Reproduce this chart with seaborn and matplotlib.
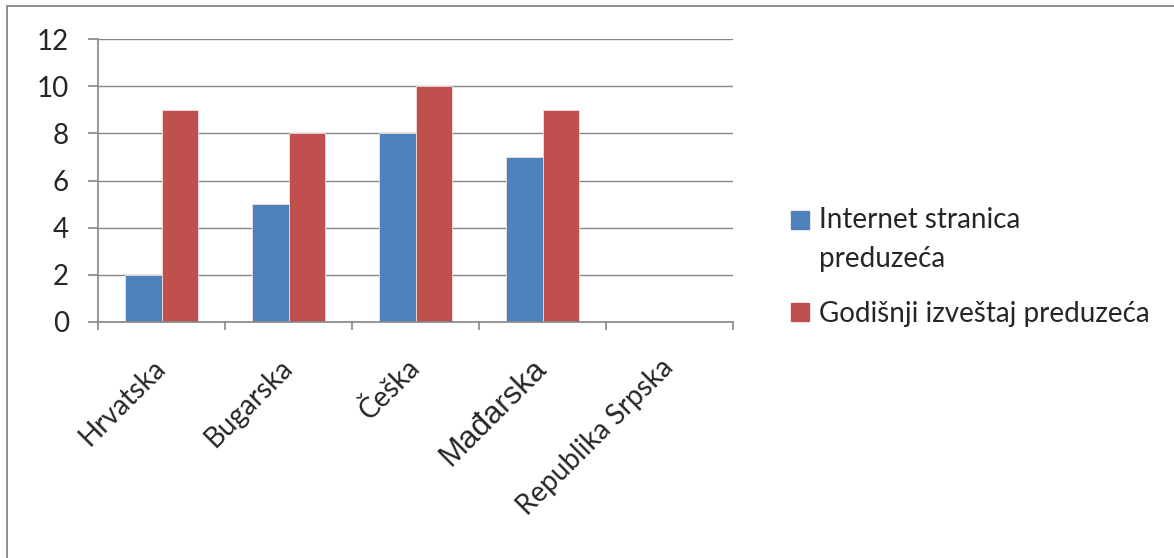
import matplotlib
matplotlib.use("Agg")
import pandas as pd
import matplotlib.pyplot as plt
import seaborn as sns
from matplotlib.patches import Rectangle
from matplotlib.legend_handler import HandlerPatch

countries = ["Hrvatska", "Bugarska", "Češka", "Mađarska", "Republika Srpska"]
series = ["Internet stranica\npreduzeća", "Godišnji izveštaj preduzeća"]
internet = [2, 5, 8, 7, None]
godisnji = [9, 8, 10, 9, None]
yticks = [0, 2, 4, 6, 8, 10, 12]
colors = ["#4F81BD", "#C0504D"]
gray = "#868686"

df = pd.DataFrame({
    "Zemlja": countries * 2,
    "Izvor": [series[0]] * len(countries) + [series[1]] * len(countries),
    "Vrednost": internet + godisnji,
}).dropna()

sns.set_style("white")
plt.rcParams["font.family"] = ["Lato", "DejaVu Sans"]

fig = plt.figure(figsize=(11.74, 5.58), dpi=100)
ax = fig.add_axes([98 / 1174, 1 - 322 / 558, 635 / 1174, 283 / 558])

sns.barplot(data=df, x="Zemlja", y="Vrednost", hue="Izvor", order=countries,
            hue_order=series, palette=colors, saturation=1, width=0.567,
            edgecolor="#f0dede", linewidth=0.6, ax=ax)
ax.get_legend().remove()

ax.set_xlim(-0.5, 4.5)
ax.set_ylim(0, 12)
ax.set_yticks(yticks)
ax.set_xlabel("")
ax.set_ylabel("")
ax.set_axisbelow(True)
ax.grid(axis="y", color=gray, lw=1)
ax.grid(axis="x", visible=False)
for s in ["top", "right"]:
    ax.spines[s].set_visible(False)
for s in ["left", "bottom"]:
    ax.spines[s].set_color(gray)
    ax.spines[s].set_linewidth(1.2)

ax.set_xticks([i - 0.5 for i in range(6)], minor=True)
ax.tick_params(axis="x", which="major", length=0, pad=30, labelsize=20)
ax.tick_params(axis="x", which="minor", length=6, width=1.2, color=gray, direction="out", bottom=True)
ax.tick_params(axis="y", length=7, width=1.2, color=gray, direction="out", left=True, pad=14, labelsize=20)
for lbl in ax.get_xticklabels():
    lbl.set(rotation=45, ha="right", va="center", rotation_mode="anchor")
    if lbl.get_text() == "Mađarska":
        lbl.set(family="Liberation Sans", fontsize=22.5)


def raised(legend, orig_handle, xdescent, ydescent, width, height, fontsize):
    return Rectangle((-xdescent, -ydescent + 0.72 * fontsize), width, height)


handles = [Rectangle((0, 0), 1, 1, color=c) for c in colors]
leg = fig.legend(handles, series, loc="center left",
                 bbox_to_anchor=(777 / 1174, 1 - 267 / 558), frameon=False,
                 fontsize=20, handlelength=0.65, handleheight=0.65,
                 handletextpad=0.35, labelspacing=1.05, borderpad=0,
                 handler_map={handles[0]: HandlerPatch(patch_func=raised)})
leg.get_texts()[0].set_linespacing(1.6)

fig.add_artist(Rectangle((7 / 1174, -0.1), 1.2, (558 - 6) / 558 + 0.1,
                         transform=fig.transFigure, fill=False, ec=gray, lw=1.3))

fig.savefig("out.png", dpi=100)
